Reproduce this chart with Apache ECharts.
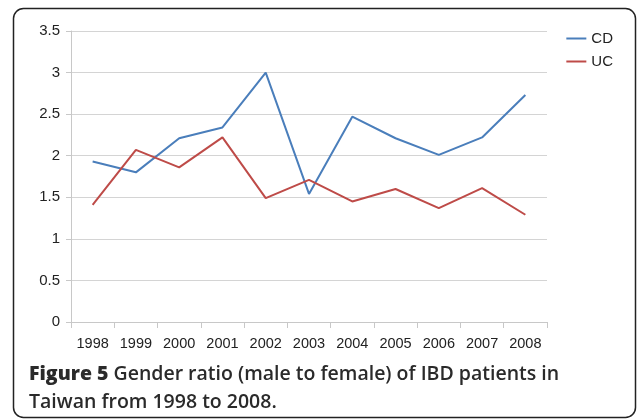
<!DOCTYPE html>
<html>
<head>
<meta charset="utf-8">
<script src="https://cdn.jsdelivr.net/npm/echarts@6/dist/echarts.min.js"></script>
<style>
  html, body { margin: 0; padding: 0; background: #fff; }
  #chart { width: 637px; height: 420px; }
</style>
</head>
<body>
<div id="chart"></div>
<script>
// data
const years = ['1998', '1999', '2000', '2001', '2002', '2003', '2004', '2005', '2006', '2007', '2008'];
const cdRatio = [1.93, 1.80, 2.21, 2.34, 3.00, 1.54, 2.47, 2.21, 2.01, 2.22, 2.73];
const ucRatio = [1.41, 2.07, 1.86, 2.22, 1.49, 1.71, 1.45, 1.60, 1.37, 1.61, 1.29];

const BLUE = '#4a7ebb';
const RED = '#be4b48';
const AXIS_GRAY = '#c8c8c8';

const chart = echarts.init(document.getElementById('chart'), null, { renderer: 'canvas' });

chart.setOption({
  animation: false,
  backgroundColor: '#fff',
  textStyle: { fontFamily: 'Liberation Sans, Arial, sans-serif' },
  grid: { left: 71, right: 90, top: 31, bottom: 98, containLabel: false },
  legend: {
    right: 19,
    top: 26,
    orient: 'vertical',
    itemGap: 8,
    itemWidth: 20,
    itemHeight: 2,
    icon: 'rect',
    textStyle: { fontSize: 15, color: '#222' },
    data: ['CD', 'UC']
  },
  xAxis: {
    type: 'category',
    data: years,
    boundaryGap: true,
    axisLine: { lineStyle: { color: AXIS_GRAY, width: 1 } },
    axisTick: { show: true, length: 6, interval: 0, lineStyle: { color: AXIS_GRAY } },
    axisLabel: { color: '#222', fontSize: 14.5, margin: 14, interval: 0 }
  },
  yAxis: {
    type: 'value',
    min: 0,
    max: 3.5,
    interval: 0.5,
    axisLine: { show: true, lineStyle: { color: AXIS_GRAY } },
    axisTick: { show: true, length: 5, lineStyle: { color: AXIS_GRAY } },
    axisLabel: { color: '#222', fontSize: 15, margin: 11 },
    splitLine: { lineStyle: { color: '#d4d4d4', width: 1 } }
  },
  series: [
    {
      name: 'CD',
      type: 'line',
      data: cdRatio,
      symbol: 'none',
      lineStyle: { color: BLUE, width: 2 },
      itemStyle: { color: BLUE }
    },
    {
      name: 'UC',
      type: 'line',
      data: ucRatio,
      symbol: 'none',
      lineStyle: { color: RED, width: 2 },
      itemStyle: { color: RED }
    }
  ],
  graphic: [
    {
      type: 'rect',
      shape: { x: 13.5, y: 8.5, width: 622, height: 409, r: 10 },
      style: { fill: 'none', stroke: '#222', lineWidth: 1.5 },
      silent: true
    },
    {
      type: 'text',
      left: 29,
      top: 360,
      style: {
        text: '{b|Figure 5} Gender ratio (male to female) of IBD patients in\nTaiwan from 1998 to 2008.',
        fontFamily: 'Open Sans, sans-serif',
        fontSize: 19.5,
        fontWeight: 600,
        fill: '#2a2a2a',
        lineHeight: 28,
        rich: {
          b: { fontFamily: 'Open Sans, sans-serif', fontSize: 19.5, fontWeight: 800, fill: '#2a2a2a', lineHeight: 28 }
        }
      }
    }
  ]
});
</script>
</body>
</html>
